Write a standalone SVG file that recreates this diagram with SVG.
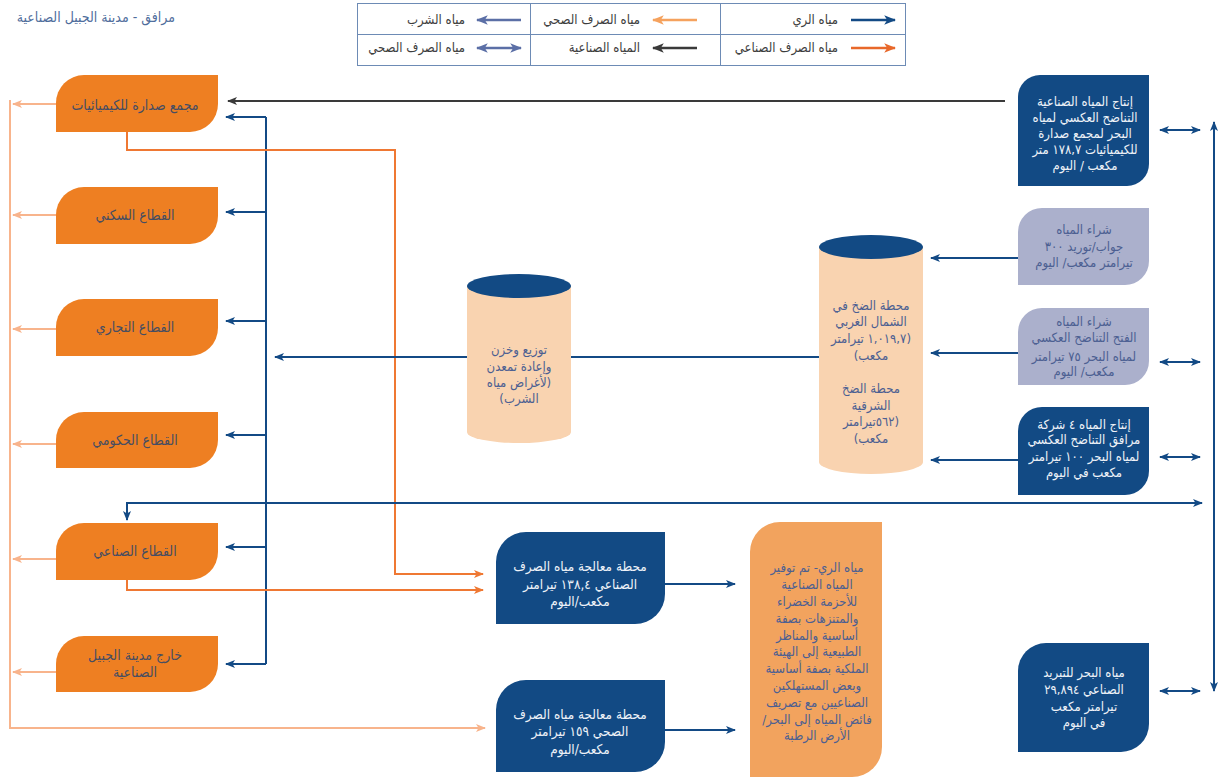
<svg xmlns="http://www.w3.org/2000/svg" width="1228" height="778" viewBox="0 0 1228 778">
<style>
text{font-family:"DejaVu Sans Condensed","DejaVu Sans",sans-serif;font-size:13px;text-anchor:middle;direction:rtl}
.lg{fill:#3d3d3d;font-size:13px;text-anchor:start}
.ttl{fill:#4f6d9c;font-size:14px;text-anchor:start}
.on{fill:#ee7f22}
.ot{fill:#454d62;font-size:14px}
.db{fill:#124a84}
.wt{fill:#eef2f8}
.lp{fill:#abb0cc}
.lpt{fill:#4c5f92}
.pe{fill:#f9d3b0}
.pt{fill:#4c5f92}
.ir{fill:#f2a35e}
.mt{fill:#eef2f8;font-size:13.5px}
.b{fill:none;stroke:#134a85;stroke-width:2}
.lo{fill:none;stroke:#f8b48c;stroke-width:2}
.or{fill:none;stroke:#ef7833;stroke-width:2}
.dk{fill:none;stroke:#3a3a3a;stroke-width:2}
.pb{fill:none;stroke:#5b6fa6;stroke-width:2.5}
.lgo{fill:none;stroke:#f5a25e;stroke-width:2.5}
</style>
<defs>
<marker id="mb" viewBox="0 0 10 8" refX="9" refY="4" markerWidth="10" markerHeight="8" markerUnits="userSpaceOnUse" orient="auto-start-reverse"><path d="M0,0 L10,4 L0,8 L2.5,4 Z" fill="#134a85"/></marker>
<marker id="mlo" viewBox="0 0 10 8" refX="9" refY="4" markerWidth="10" markerHeight="8" markerUnits="userSpaceOnUse" orient="auto-start-reverse"><path d="M0,0 L10,4 L0,8 L2.5,4 Z" fill="#f8b48c"/></marker>
<marker id="mor" viewBox="0 0 10 8" refX="9" refY="4" markerWidth="10" markerHeight="8" markerUnits="userSpaceOnUse" orient="auto-start-reverse"><path d="M0,0 L10,4 L0,8 L2.5,4 Z" fill="#ef7833"/></marker>
<marker id="mdk" viewBox="0 0 10 8" refX="9" refY="4" markerWidth="10" markerHeight="8" markerUnits="userSpaceOnUse" orient="auto-start-reverse"><path d="M0,0 L10,4 L0,8 L2.5,4 Z" fill="#3a3a3a"/></marker>
<marker id="mpb" viewBox="0 0 10 8" refX="9" refY="4" markerWidth="12" markerHeight="10" markerUnits="userSpaceOnUse" orient="auto-start-reverse"><path d="M0,0 L10,4 L0,8 L2.5,4 Z" fill="#5b6fa6"/></marker>
<marker id="mlgo" viewBox="0 0 10 8" refX="9" refY="4" markerWidth="12" markerHeight="10" markerUnits="userSpaceOnUse" orient="auto-start-reverse"><path d="M0,0 L10,4 L0,8 L2.5,4 Z" fill="#f5a25e"/></marker>
<marker id="mlb" viewBox="0 0 10 8" refX="9" refY="4" markerWidth="12" markerHeight="10" markerUnits="userSpaceOnUse" orient="auto-start-reverse"><path d="M0,0 L10,4 L0,8 L2.5,4 Z" fill="#134a85"/></marker>
<marker id="mlor" viewBox="0 0 10 8" refX="9" refY="4" markerWidth="12" markerHeight="10" markerUnits="userSpaceOnUse" orient="auto-start-reverse"><path d="M0,0 L10,4 L0,8 L2.5,4 Z" fill="#e8682a"/></marker>
<marker id="mldk" viewBox="0 0 10 8" refX="9" refY="4" markerWidth="12" markerHeight="10" markerUnits="userSpaceOnUse" orient="auto-start-reverse"><path d="M0,0 L10,4 L0,8 L2.5,4 Z" fill="#3a3a3a"/></marker>
</defs>

<text class="ttl" x="175" y="22">مرافق - مدينة الجبيل الصناعية</text>

<g id="legend">
<rect x="357.5" y="3.5" width="548" height="62" fill="#fff" stroke="#6d8bb5" stroke-width="1"/>
<line x1="357.5" y1="34.5" x2="905.5" y2="34.5" stroke="#6d8bb5"/>
<line x1="530.5" y1="3.5" x2="530.5" y2="65.5" stroke="#6d8bb5"/>
<line x1="720.5" y1="3.5" x2="720.5" y2="65.5" stroke="#6d8bb5"/>
<path d="M851,20 H895" style="fill:none;stroke:#134a85;stroke-width:2.5" marker-end="url(#mlb)"/>
<text class="lg" x="838" y="24">مياه الري</text>
<path d="M697,20 H653" class="lgo" marker-end="url(#mlgo)"/>
<text class="lg" x="640" y="24">مياه الصرف الصحي</text>
<path d="M521,20 H477" class="pb" marker-end="url(#mpb)"/>
<text class="lg" x="465" y="24">مياه الشرب</text>
<path d="M851,48 H895" style="fill:none;stroke:#e8682a;stroke-width:2.5" marker-end="url(#mlor)"/>
<text class="lg" x="838" y="52">مياه الصرف الصناعي</text>
<path d="M697,48 H653" style="fill:none;stroke:#3a3a3a;stroke-width:2.5" marker-end="url(#mldk)"/>
<text class="lg" x="640" y="52">المياه الصناعية</text>
<path d="M477,48 H521" class="pb" marker-start="url(#mpb)" marker-end="url(#mpb)"/>
<text class="lg" x="465" y="52">مياه الصرف الصحي</text>
</g>

<g id="connectors">
<path d="M10,100 V728 H485" class="lo" marker-end="url(#mlo)"/>
<path d="M56,104 H13" class="lo" marker-end="url(#mlo)"/>
<path d="M56,215 H13" class="lo" marker-end="url(#mlo)"/>
<path d="M56,329 H13" class="lo" marker-end="url(#mlo)"/>
<path d="M56,444 H13" class="lo" marker-end="url(#mlo)"/>
<path d="M56,559 H13" class="lo" marker-end="url(#mlo)"/>
<path d="M56,672 H13" class="lo" marker-end="url(#mlo)"/>
<path d="M266,117 V664" class="b"/>
<path d="M266,117 H226" class="b" marker-end="url(#mb)"/>
<path d="M266,212 H226" class="b" marker-end="url(#mb)"/>
<path d="M266,321 H226" class="b" marker-end="url(#mb)"/>
<path d="M266,435 H226" class="b" marker-end="url(#mb)"/>
<path d="M266,547 H226" class="b" marker-end="url(#mb)"/>
<path d="M266,664 H226" class="b" marker-end="url(#mb)"/>
<path d="M1005,101 H228" class="dk" marker-end="url(#mdk)"/>
<path d="M127,132 V150 H395 V574 H483" class="or" marker-end="url(#mor)"/>
<path d="M127,580 V590 H483" class="or" marker-end="url(#mor)"/>
<path d="M1200,503 H127 V520" class="b" marker-end="url(#mb)"/>
<path d="M1190,503 H1202" class="b" marker-end="url(#mb)"/>
<path d="M819,357 H275" class="b" marker-end="url(#mb)"/>
<path d="M1018,258 H931" class="b" marker-end="url(#mb)"/>
<path d="M1018,353 H931" class="b" marker-end="url(#mb)"/>
<path d="M1018,460 H931" class="b" marker-end="url(#mb)"/>
<path d="M665,584 H735" class="b" marker-end="url(#mb)"/>
<path d="M665,730 H735" class="b" marker-end="url(#mb)"/>
<path d="M1160,130 H1200" class="b" marker-start="url(#mb)" marker-end="url(#mb)"/>
<path d="M1160,362 H1200" class="b" marker-start="url(#mb)" marker-end="url(#mb)"/>
<path d="M1160,457 H1200" class="b" marker-start="url(#mb)" marker-end="url(#mb)"/>
<path d="M1160,691 H1200" class="b" marker-start="url(#mb)" marker-end="url(#mb)"/>
<path d="M1214,122 V691" class="b" marker-start="url(#mb)" marker-end="url(#mb)"/>
</g>

<g id="n-sadara"><path class="on" d="M56,132 V103 A28,28 0 0 1 84,75 H218 V104 A28,28 0 0 1 190,132 Z"/><text class="ot" x="135" y="110">مجمع صدارة للكيميائيات</text></g>
<g id="n-residential"><path class="on" d="M56,244 V215 A28,28 0 0 1 84,187 H218 V216 A28,28 0 0 1 190,244 Z"/><text class="ot" x="135" y="220">القطاع السكني</text></g>
<g id="n-commercial"><path class="on" d="M56,356 V327 A28,28 0 0 1 84,299 H218 V328 A28,28 0 0 1 190,356 Z"/><text class="ot" x="135" y="332">القطاع التجاري</text></g>
<g id="n-government"><path class="on" d="M56,468 V440 A28,28 0 0 1 84,412 H218 V440 A28,28 0 0 1 190,468 Z"/><text class="ot" x="135" y="445">القطاع الحكومي</text></g>
<g id="n-industrial"><path class="on" d="M56,580 V551 A28,28 0 0 1 84,523 H218 V552 A28,28 0 0 1 190,580 Z"/><text class="ot" x="135" y="556">القطاع الصناعي</text></g>
<g id="n-outside"><path class="on" d="M56,692 V664 A28,28 0 0 1 84,636 H218 V664 A28,28 0 0 1 190,692 Z"/><text class="ot" x="135" y="660">خارج مدينة الجبيل</text><text class="ot" x="135" y="677">الصناعية</text></g>

<g id="n-distribution">
<path class="pe" d="M467,286 V432 A52,11 0 0 0 571,432 V286 Z"/>
<ellipse cx="519" cy="286" rx="52" ry="12" class="db"/>
<text class="pt" x="519" y="354">توزيع وخزن</text>
<text class="pt" x="519" y="371">وإعادة تمعدن</text>
<text class="pt" x="519" y="387">(لأغراض مياه</text>
<text class="pt" x="519" y="403">الشرب)</text>
</g>

<g id="n-pumping">
<path class="pe" d="M819,247 V462 A52,12 0 0 0 923,462 V247 Z"/>
<ellipse cx="871" cy="247" rx="52" ry="12" class="db"/>
<text class="pt" x="871" y="310">محطة الضخ في</text>
<text class="pt" x="871" y="326">الشمال الغربي</text>
<text class="pt" x="871" y="343">(١,٠١٩,٧ تيرامتر</text>
<text class="pt" x="871" y="360">مكعب)</text>
<text class="pt" x="871" y="393">محطة الضخ</text>
<text class="pt" x="871" y="410">الشرقية</text>
<text class="pt" x="871" y="426">(٥٦٢تيرامتر</text>
<text class="pt" x="871" y="443">مكعب)</text>
</g>

<g id="n-sadara-ro"><path class="db" d="M1018,186 V97 A22,22 0 0 1 1040,75 H1149 V164 A22,22 0 0 1 1127,186 Z"/>
<text class="wt" x="1085" y="106">إنتاج المياه الصناعية</text>
<text class="wt" x="1085" y="122">التناضح العكسي لمياه</text>
<text class="wt" x="1085" y="138">البحر لمجمع صدارة</text>
<text class="wt" x="1085" y="154">للكيميائيات ١٧٨,٧ متر</text>
<text class="wt" x="1085" y="170">مكعب / اليوم</text></g>

<g id="n-jawab"><path class="lp" d="M1018,285 V232 A24,24 0 0 1 1042,208 H1149 V261 A24,24 0 0 1 1125,285 Z"/>
<text class="lpt" x="1084" y="234">شراء المياه</text>
<text class="lpt" x="1084" y="251">جواب/توريد ٣٠٠</text>
<text class="lpt" x="1084" y="267">تيرامتر مكعب/ اليوم</text></g>

<g id="n-fateh"><path class="lp" d="M1018,385 V332 A24,24 0 0 1 1042,308 H1149 V361 A24,24 0 0 1 1125,385 Z"/>
<text class="lpt" x="1084" y="326">شراء المياه</text>
<text class="lpt" x="1084" y="342">الفتح التناضح العكسي</text>
<text class="lpt" x="1084" y="361">لمياه البحر ٧٥ تيرامتر</text>
<text class="lpt" x="1084" y="376">مكعب/ اليوم</text></g>

<g id="n-marafiq-ro"><path class="db" d="M1018,495 V431 A24,24 0 0 1 1042,407 H1149 V471 A24,24 0 0 1 1125,495 Z"/>
<text class="wt" x="1084" y="429">إنتاج المياه ٤ شركة</text>
<text class="wt" x="1084" y="444">مرافق التناضح العكسي</text>
<text class="wt" x="1084" y="461">لمياه البحر ١٠٠ تيرامتر</text>
<text class="wt" x="1084" y="477">مكعب في اليوم</text></g>

<g id="n-seawater"><path class="db" d="M1018,752 V671 A28,28 0 0 1 1046,643 H1149 V724 A28,28 0 0 1 1121,752 Z"/>
<text class="wt" x="1084" y="677">مياه البحر للتبريد</text>
<text class="wt" x="1084" y="694">الصناعي ٢٩,٨٩٤</text>
<text class="wt" x="1084" y="711">تيرامتر مكعب</text>
<text class="wt" x="1084" y="727">في اليوم</text></g>

<g id="n-industrial-wwtp"><path class="db" d="M496,624 V562 A30,30 0 0 1 526,532 H665 V594 A30,30 0 0 1 635,624 Z"/>
<text class="mt" x="580" y="571">محطة معالجة مياه الصرف</text>
<text class="mt" x="580" y="589">الصناعي ١٣٨,٤ تيرامتر</text>
<text class="mt" x="580" y="606">مكعب/اليوم</text></g>

<g id="n-sanitary-wwtp"><path class="db" d="M496,772 V710 A30,30 0 0 1 526,680 H665 V742 A30,30 0 0 1 635,772 Z"/>
<text class="mt" x="580" y="719">محطة معالجة مياه الصرف</text>
<text class="mt" x="580" y="736">الصحي ١٥٩ تيرامتر</text>
<text class="mt" x="580" y="754">مكعب/اليوم</text></g>

<g id="n-irrigation"><path class="ir" d="M750,777 V552 A30,30 0 0 1 780,522 H882 V747 A30,30 0 0 1 852,777 Z"/>
<text class="pt" x="817" y="572">مياه الري- تم توفير</text>
<text class="pt" x="817" y="589">المياه الصناعية</text>
<text class="pt" x="817" y="606">للأحزمة الخضراء</text>
<text class="pt" x="817" y="623">والمتنزهات بصفة</text>
<text class="pt" x="817" y="640">أساسية والمناظر</text>
<text class="pt" x="817" y="656">الطبيعية إلى الهيئة</text>
<text class="pt" x="817" y="673">الملكية بصفة أساسية</text>
<text class="pt" x="817" y="690">وبعض المستهلكين</text>
<text class="pt" x="817" y="707">الصناعيين مع تصريف</text>
<text class="pt" x="817" y="724">فائض المياه إلى البحر/</text>
<text class="pt" x="817" y="740">الأرض الرطبة</text></g>
</svg>
